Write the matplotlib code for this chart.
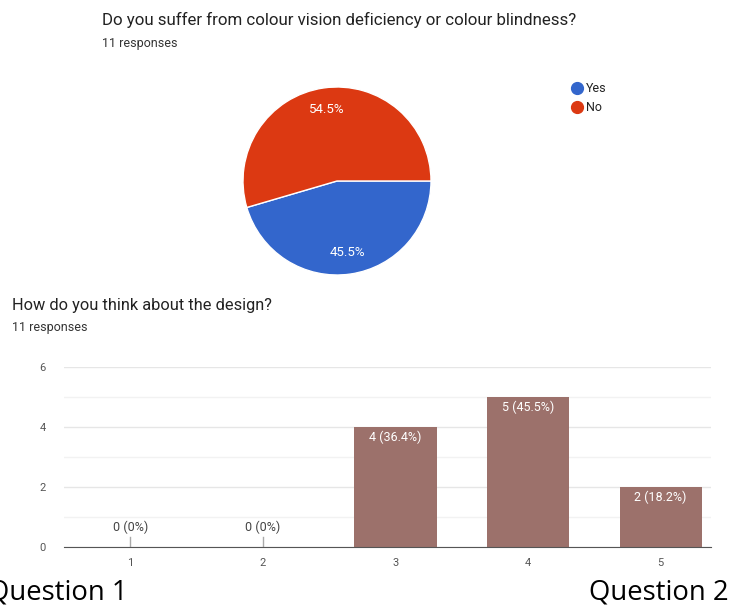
import matplotlib

matplotlib.use("Agg")
import matplotlib.pyplot as plt
from matplotlib.lines import Line2D

# question 1: pie
pie_labels = ["Yes", "No"]
pie_values = [5, 6]
pie_colors = ["#3366cc", "#dc3912"]

# question 2: bar chart
bar_cats = [1, 2, 3, 4, 5]
bar_values = [0, 0, 4, 5, 2]
bar_text = ["0 (0%)", "0 (0%)", "4 (36.4%)", "5 (45.5%)", "2 (18.2%)"]
yticks = [0, 2, 4, 6]

W, H = 732, 609
plt.rcParams["font.family"] = ["Roboto", "DejaVu Sans"]
fig = plt.figure(figsize=(W / 100, H / 100), dpi=100)


def px(x, y):  # pixel coords from top-left -> figure fraction
    return x / W, 1 - y / H


# ---- pie ----
fig.text(*px(102, 20), "Do you suffer from colour vision deficiency or colour blindness?",
         fontsize=12.2, color="#222222", va="center")
fig.text(*px(102, 43), "11 responses", fontsize=9, color="#333333", va="center")

r = 94
cx, cy = 337, 181
axp = fig.add_axes([(cx - 2.5 * r / 2) / W, (H - cy - 2.5 * r / 2) / H, 2.5 * r / W, 2.5 * r / H])
wedges, _, autot = axp.pie(pie_values, colors=pie_colors, startangle=0, counterclock=False,
                           autopct=lambda p: f"{p:.1f}%", pctdistance=0.77,
                           wedgeprops=dict(edgecolor="white", linewidth=1),
                           textprops=dict(color="white", fontsize=9.5))
axp.set_xlim(-1.25, 1.25)
axp.set_ylim(-1.25, 1.25)

handles = [Line2D([], [], marker="o", ls="", markersize=8.5, markerfacecolor=c, markeredgecolor=c)
           for c in pie_colors]
fig.legend(handles, pie_labels, loc="upper left", bbox_to_anchor=px(570, 82), frameon=False,
           fontsize=9, handletextpad=0.15, labelspacing=0.5, borderaxespad=0, borderpad=0,
           handlelength=1.1, labelcolor="#222222")

# ---- bars ----
fig.text(*px(12, 305), "How do you think about the design?", fontsize=11.8, color="#222222",
         va="center")
fig.text(*px(12, 327), "11 responses", fontsize=9, color="#333333", va="center")

left, right, top, bot = 64, 711, 367, 547
axb = fig.add_axes([left / W, (H - bot) / H, (right - left) / W, (bot - top) / H])
bar_color = "#9c716b"
axb.bar(bar_cats, bar_values, width=0.62, color=bar_color, zorder=3)
for x, v, t in zip(bar_cats, bar_values, bar_text):
    if v == 0:
        axb.plot([x, x], [0, 0.33], color="#aaaaaa", lw=1, zorder=3)
        axb.text(x, 0.65, t, ha="center", va="center", fontsize=9, color="#444444")
    else:
        axb.text(x, v - 0.33, t, ha="center", va="center", fontsize=9, color="white", zorder=4)

axb.set_xlim(0.5, 5.38)
axb.set_ylim(0, 6)
axb.set_yticks(yticks)
axb.set_yticks([1, 3, 5], minor=True)
axb.set_xticks(bar_cats)
axb.grid(axis="y", which="major", color="#e6e6e6", lw=1, zorder=0)
axb.grid(axis="y", which="minor", color="#f2f2f2", lw=1, zorder=0)
for s in ["top", "right", "left"]:
    axb.spines[s].set_visible(False)
axb.spines["bottom"].set_color("#555555")
axb.spines["bottom"].set_zorder(5)
axb.tick_params(axis="both", which="both", length=0, labelsize=8, colors="#555555")
axb.tick_params(axis="y", pad=13)
axb.tick_params(axis="x", pad=8)

# ---- captions ----
fig.text(*px(-12, 593), "Question 1", fontsize=19.8, color="black", va="center",
         family=["Open Sans", "DejaVu Sans"])
fig.text(*px(729, 593), "Question 2", fontsize=19.8, color="black", va="center", ha="right",
         family=["Open Sans", "DejaVu Sans"])

fig.savefig("out.png", dpi=100)
